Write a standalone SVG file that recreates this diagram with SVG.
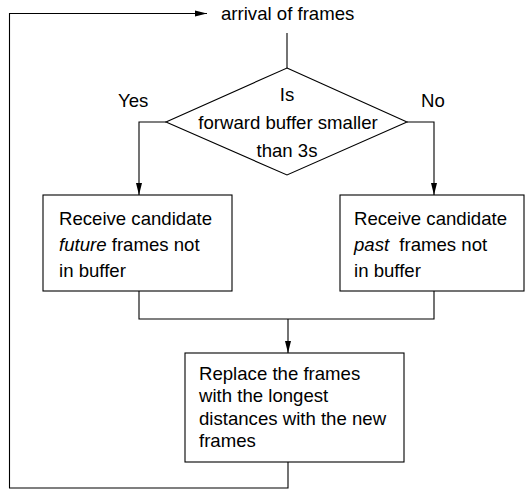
<svg xmlns="http://www.w3.org/2000/svg" width="527" height="489" viewBox="0 0 527 489">
<style>
.ln{fill:none;stroke:#000;stroke-width:1.1}
.bx{fill:#fff;stroke:#000;stroke-width:1.1}
text{font-family:"Liberation Sans",Arial,sans-serif;font-size:18.6px;fill:#000}
.m{text-anchor:middle}
</style>
<defs>
<marker id="ah" markerUnits="userSpaceOnUse" markerWidth="12" markerHeight="8" refX="12" refY="4" orient="auto">
<path d="M0,1 L12,4 L0,7 Z" fill="#000"/>
</marker>
</defs>
<rect width="527" height="489" fill="#fff"/>
<g id="connectors">
<path class="ln" d="M288,462 V488 H9.5 V13.5 H207" marker-end="url(#ah)"/>
<path class="ln" d="M287,33 V68"/>
<path class="ln" d="M166,122 H139 V195" marker-end="url(#ah)"/>
<path class="ln" d="M407,122 H434 V195" marker-end="url(#ah)"/>
<path class="ln" d="M139,291 V319 H434 V291"/>
<path class="ln" d="M288,319 V353" marker-end="url(#ah)"/>
</g>
<g id="start">
<text x="221" y="20">arrival of frames</text>
</g>
<g id="decision">
<polygon class="bx" points="287,68 407,122 287,175 166,122"/>
<text class="m" x="287" y="101">Is</text>
<text class="m" x="288" y="129">forward buffer smaller</text>
<text class="m" x="287" y="157">than 3s</text>
</g>
<g id="label-yes"><text x="118" y="107">Yes</text></g>
<g id="label-no"><text x="421" y="107">No</text></g>
<g id="future">
<rect class="bx" x="43" y="195" width="189" height="96"/>
<text x="59" y="225">Receive candidate</text>
<text x="59" y="251"><tspan font-style="italic">future</tspan> frames not</text>
<text x="59" y="277">in buffer</text>
</g>
<g id="past">
<rect class="bx" x="340" y="195" width="184" height="96"/>
<text x="354" y="225">Receive candidate</text>
<text x="354" y="251"><tspan font-style="italic">past</tspan><tspan dx="5"> frames not</tspan></text>
<text x="354" y="277">in buffer</text>
</g>
<g id="replace">
<rect class="bx" x="185" y="353" width="219" height="109"/>
<text x="199" y="380">Replace the frames</text>
<text x="199" y="402">with the longest</text>
<text x="199" y="425">distances with the new</text>
<text x="199" y="447">frames</text>
</g>
</svg>
